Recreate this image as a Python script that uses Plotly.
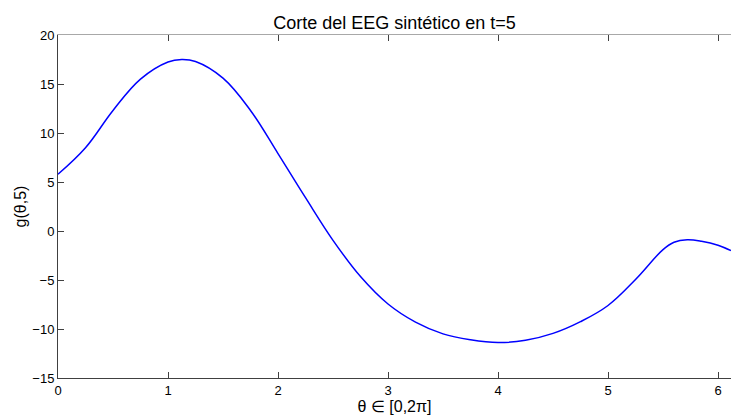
import plotly.graph_objects as go

theta = [0, 0.25, 0.5, 0.75, 1.0, 1.125, 1.25, 1.5, 1.75, 2.0, 2.25, 2.5, 2.75,
         3.0, 3.25, 3.5, 3.75, 4.0, 4.25, 4.5, 4.75, 5.0, 5.25, 5.5, 5.6, 5.72,
         5.85, 6.0, 6.118]
g = [5.8, 8.5, 12.3, 15.5, 17.25, 17.5, 17.3, 15.6, 12.3, 7.9, 3.4, -0.95, -4.65,
     -7.45, -9.3, -10.5, -11.1, -11.38, -11.15, -10.45, -9.25, -7.6, -4.95, -1.9, -1.15, -0.9,
     -1.05, -1.45, -2.0]

x_ticks = [0, 1, 2, 3, 4, 5, 6]
y_ticks = [-15, -10, -5, 0, 5, 10, 15, 20]

FONT = "Liberation Sans, Arial, sans-serif"
AX = "#404040"

fig = go.Figure()
fig.add_trace(go.Scatter(x=theta, y=g, mode="lines",
                         line=dict(color="#0000FF", width=1.5, shape="spline", smoothing=1.1),
                         showlegend=False))
fig.add_trace(go.Scatter(x=theta, y=g, mode="lines", xaxis="x2",
                         line=dict(color="rgba(0,0,0,0)", width=0),
                         hoverinfo="skip", showlegend=False))

fig.update_layout(
    width=731, height=417,
    margin=dict(l=58, r=0, t=35, b=39),
    paper_bgcolor="white", plot_bgcolor="white",
    font=dict(family=FONT, color="black", size=13),
    title=dict(text="Corte del EEG sintético en t=5", x=0.5, xref="paper",
               xanchor="center", y=0.945, yanchor="middle",
               font=dict(size=18, family=FONT, color="black")),
    xaxis=dict(range=[0, 6.118], tickvals=x_ticks, ticks="inside", ticklen=6,
               tickcolor=AX, showline=True, linecolor=AX, linewidth=1,
               showgrid=False, zeroline=False,
               tickfont=dict(size=13, family=FONT),
               title=dict(text="θ ∈ [0,2π]", font=dict(size=16, family=FONT), standoff=0)),
    xaxis2=dict(range=[0, 6.118], overlaying="x", side="top", tickvals=x_ticks,
                ticks="inside", ticklen=6, tickcolor=AX, showticklabels=False,
                showline=True, linecolor="#a8a8a8", linewidth=1.3,
                showgrid=False, zeroline=False),
    yaxis=dict(range=[-15, 20], tickvals=y_ticks, ticks="inside", ticklen=6,
               tickcolor=AX, showline=True, linecolor=AX, linewidth=1,
               showgrid=False, zeroline=False,
               tickfont=dict(size=13, family=FONT),
               title=dict(text="g(θ,5)", font=dict(size=16, family=FONT), standoff=1)),
)

fig.write_html("out.html")
